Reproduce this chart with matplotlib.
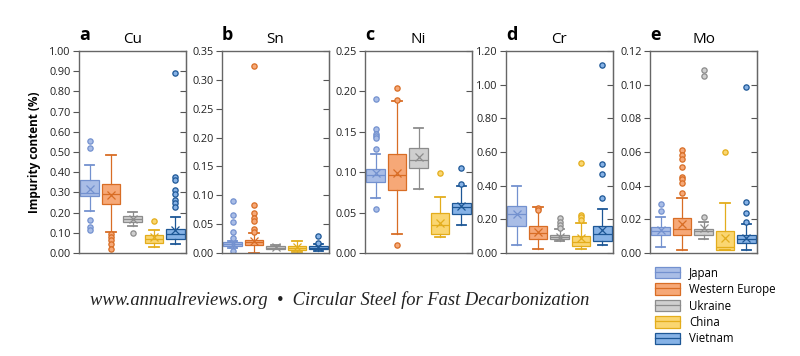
import numpy as np
import matplotlib
matplotlib.use('Agg')
import matplotlib.pyplot as plt
from matplotlib.patches import Patch
from matplotlib.lines import Line2D

# Ülke / seri isimleri
countries = ['Japan', 'Western Europe', 'Ukraine', 'China', 'Vietnam']

# Cu (%)
cu_q1 = [0.283, 0.245, 0.152, 0.051, 0.071]
cu_med = [0.298, 0.294, 0.167, 0.071, 0.096]
cu_q3 = [0.359, 0.340, 0.182, 0.088, 0.121]
cu_lo = [0.208, 0.104, 0.132, 0.030, 0.046]
cu_hi = [0.438, 0.484, 0.202, 0.112, 0.177]
cu_mean = [0.319, 0.286, 0.170, 0.079, 0.116]
cu_fliers = [[0.555, 0.521, 0.162, 0.129, 0.112],
             [0.096, 0.079, 0.063, 0.043, 0.022],
             [0.101],
             [0.159],
             [0.889, 0.377, 0.360, 0.314, 0.291, 0.261, 0.248, 0.228]]

# Sn (%)
sn_q1 = [0.012, 0.013, 0.0075, 0.0046, 0.007]
sn_med = [0.015, 0.0186, 0.0093, 0.0087, 0.009]
sn_q3 = [0.0186, 0.022, 0.0116, 0.0128, 0.0116]
sn_lo = [0.008, 0.000, 0.007, 0.001, 0.004]
sn_hi = [0.020, 0.035, 0.013, 0.020, 0.015]
sn_mean = [0.016, 0.0203, 0.010, 0.010, 0.010]
sn_fliers = [[0.0905, 0.065, 0.053, 0.037, 0.0255, 0.004],
             [0.324, 0.0824, 0.069, 0.060, 0.0557, 0.0418, 0.0366],
             [],
             [],
             [0.030, 0.017]]

# Ni (%)
ni_q1 = [0.088, 0.078, 0.1057, 0.0241, 0.048]
ni_med = [0.0966, 0.0966, 0.115, 0.0344, 0.0564]
ni_q3 = [0.104, 0.122, 0.1298, 0.050, 0.0622]
ni_lo = [0.068, 0.024, 0.079, 0.020, 0.035]
ni_hi = [0.122, 0.188, 0.155, 0.0697, 0.0833]
ni_mean = [0.0995, 0.0995, 0.119, 0.037, 0.058]
ni_fliers = [[0.190, 0.153, 0.147, 0.145, 0.142, 0.129, 0.054],
             [0.204, 0.189, 0.0104],
             [],
             [0.0995],
             [0.1057, 0.086]]

# Cr (%)
cr_q1 = [0.163, 0.0836, 0.0836, 0.040, 0.070]
cr_med = [0.229, 0.119, 0.097, 0.064, 0.115]
cr_q3 = [0.279, 0.159, 0.109, 0.0995, 0.163]
cr_lo = [0.048, 0.024, 0.070, 0.024, 0.046]
cr_hi = [0.398, 0.273, 0.143, 0.179, 0.263]
cr_mean = [0.233, 0.127, 0.095, 0.090, 0.135]
cr_fliers = [[],
             [0.265, 0.253],
             [0.205, 0.183, 0.165, 0.151],
             [0.533, 0.227, 0.213, 0.197],
             [1.118, 0.531, 0.472, 0.328]]

# Mo (%)
mo_q1 = [0.0105, 0.0107, 0.0105, 0.0016, 0.006]
mo_med = [0.0131, 0.0145, 0.0131, 0.0036, 0.0082]
mo_q3 = [0.0155, 0.0207, 0.0145, 0.0131, 0.0105]
mo_lo = [0.0034, 0.0016, 0.0082, 0.0016, 0.0016]
mo_hi = [0.0215, 0.0324, 0.0185, 0.0299, 0.0175]
mo_mean = [0.0135, 0.0171, 0.0150, 0.0090, 0.0092]
mo_fliers = [[0.0289, 0.025],
             [0.0613, 0.0583, 0.0557, 0.0509, 0.0454, 0.044, 0.0414, 0.0358],
             [0.1087, 0.1051, 0.0213],
             [0.0601],
             [0.0985, 0.0304, 0.0235, 0.0183]]

elements = ['Cu', 'Sn', 'Ni', 'Cr', 'Mo']
letters = ['a', 'b', 'c', 'd', 'e']
panels = [
    (cu_q1, cu_med, cu_q3, cu_lo, cu_hi, cu_mean, cu_fliers),
    (sn_q1, sn_med, sn_q3, sn_lo, sn_hi, sn_mean, sn_fliers),
    (ni_q1, ni_med, ni_q3, ni_lo, ni_hi, ni_mean, ni_fliers),
    (cr_q1, cr_med, cr_q3, cr_lo, cr_hi, cr_mean, cr_fliers),
    (mo_q1, mo_med, mo_q3, mo_lo, mo_hi, mo_mean, mo_fliers),
]

# eksen ayarları
y_tops = [1.0, 0.35, 0.25, 1.2, 0.12]
y_steps = [0.1, 0.05, 0.05, 0.2, 0.02]

face_colors = ['#a9bde6', '#f6a877', '#cfcfcf', '#fad671', '#86b2e6']
edge_colors = ['#7391cf', '#d86d25', '#8c8c8c', '#e3ad1c', '#1d5796']

plt.rcParams['font.family'] = ['Open Sans', 'DejaVu Sans']

fig = plt.figure(figsize=(8, 3.56), dpi=100)
lefts = [79, 222, 365, 506, 650]

for k in range(5):
    q1, med, q3, lo, hi, mean, fl = panels[k]
    ax = fig.add_axes([lefts[k] / 800, 103 / 356, 107 / 800, 202 / 356])

    stats = []
    for i in range(5):
        stats.append({'med': med[i], 'q1': q1[i], 'q3': q3[i],
                      'whislo': lo[i], 'whishi': hi[i],
                      'mean': mean[i], 'fliers': fl[i], 'label': countries[i]})

    bp = ax.bxp(stats, positions=range(1, 6), widths=0.86, patch_artist=True,
                showmeans=True, manage_ticks=False)

    for i in range(5):
        fc = face_colors[i]
        ec = edge_colors[i]
        bp['boxes'][i].set_facecolor(fc)
        bp['boxes'][i].set_edgecolor(ec)
        bp['boxes'][i].set_linewidth(0.9)
        bp['medians'][i].set_color(ec)
        bp['medians'][i].set_linewidth(0.9)
        for w in bp['whiskers'][2 * i:2 * i + 2]:
            w.set_color(ec)
            w.set_linewidth(0.9)
        for c in bp['caps'][2 * i:2 * i + 2]:
            c.set_color(ec)
            c.set_linewidth(1.3)
        bp['means'][i].set_marker('x')
        bp['means'][i].set_markeredgecolor(ec)
        bp['means'][i].set_markersize(6)
        bp['means'][i].set_markeredgewidth(0.9)
        bp['fliers'][i].set_marker('o')
        bp['fliers'][i].set_markerfacecolor(fc)
        bp['fliers'][i].set_markeredgecolor(ec)
        bp['fliers'][i].set_markersize(3.8)
        bp['fliers'][i].set_markeredgewidth(0.9)

    ax.set_xlim(0.5, 5.5)
    ax.set_ylim(0, y_tops[k])
    ticks = np.arange(0, y_tops[k] + y_steps[k] / 2, y_steps[k])
    ax.set_yticks(ticks)
    ax.set_yticklabels(['%.2f' % t for t in ticks], fontsize=7.8, color='#222222')
    ax.tick_params(axis='y', direction='out', length=4, width=0.8, color='#555555', pad=2)
    ax.set_xticks([])
    for s in ax.spines.values():
        s.set_color('#666666')
        s.set_linewidth(1.0)

    sec = ax.secondary_yaxis('right')
    sec.set_yticks(ticks)
    sec.tick_params(direction='in', length=4, width=0.8, color='#555555', labelright=False)
    sec.spines['right'].set_color('#666666')

    ax.set_title(elements[k], fontsize=11, pad=6)
    ax.text(0.0, 1.035, letters[k], transform=ax.transAxes, fontsize=13,
            fontweight='bold', ha='left', va='bottom')

    if k == 0:
        ax.set_ylabel('Impurity content (%)', fontsize=8.5, fontweight='bold', labelpad=6)

# lejant
handles = []
for i in range(5):
    p = Patch(facecolor=face_colors[i], edgecolor=edge_colors[i], linewidth=0.9)
    l = Line2D([], [], color=edge_colors[i], linewidth=0.9)
    handles.append((p, l))
fig.legend(handles, countries, loc='upper left', bbox_to_anchor=(650 / 800, 1 - 262 / 356),
           frameon=False, fontsize=8.3, handlelength=2.2, handleheight=1.15,
           handletextpad=0.8, labelspacing=0.3, borderaxespad=0)

# alt bilgi
fig.text(340 / 800, 1 - 300 / 356,
         'www.annualreviews.org  \u2022  Circular Steel for Fast Decarbonization',
         fontsize=13.3, family='Liberation Serif', style='italic',
         ha='center', va='center', color='#222222')

fig.savefig('out.png', dpi=100)
